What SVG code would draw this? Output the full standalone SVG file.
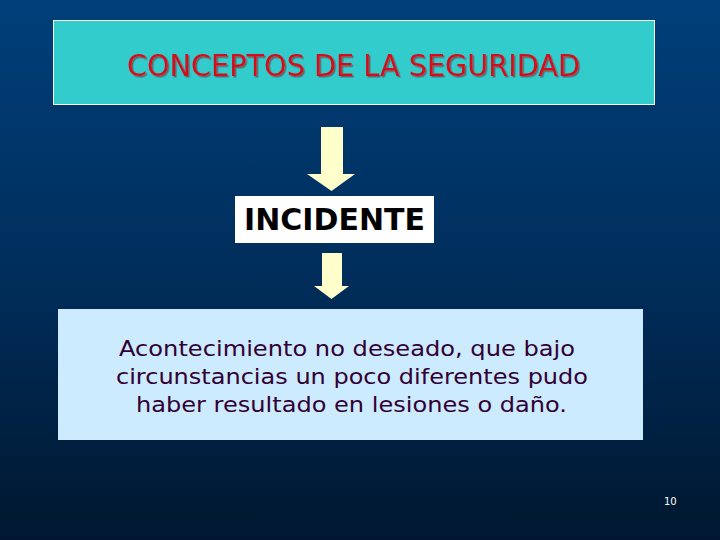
<svg xmlns="http://www.w3.org/2000/svg" width="720" height="540" viewBox="0 0 720 540">
<defs>
<linearGradient id="bg" x1="0" y1="0" x2="0" y2="1">
<stop offset="0" stop-color="#003F7A"/>
<stop offset="0.5" stop-color="#002E5C"/>
<stop offset="1" stop-color="#00172F"/>
</linearGradient>
<filter id="sh" x="-5%" y="-20%" width="110%" height="140%">
<feDropShadow dx="1.5" dy="1.5" stdDeviation="0.3" flood-color="#5A6A70" flood-opacity="1"/>
</filter>
<style>
.arrow{fill:#FFFFCC;}
.title{font-family:"DejaVu Sans","Liberation Sans",sans-serif;font-size:30px;fill:#D4101A;}
.inc{font-family:"DejaVu Sans","Liberation Sans",sans-serif;font-size:30px;font-weight:bold;fill:#000000;}
.body{font-family:"DejaVu Sans","Liberation Sans",sans-serif;font-size:22px;fill:#330033;}
.pg{font-family:"DejaVu Sans","Liberation Sans",sans-serif;font-size:10px;fill:#FFFFFF;}
</style>
</defs>
<rect x="0" y="0" width="720" height="540" fill="url(#bg)"/>
<g id="title">
<rect x="53.5" y="20.5" width="601" height="84" fill="#33CCCC" stroke="#FFFFFF" stroke-width="1"/>
<text class="title" x="127" y="76" textLength="453" lengthAdjust="spacingAndGlyphs" filter="url(#sh)">CONCEPTOS DE LA SEGURIDAD</text>
</g>
<g id="connectors">
<polygon class="arrow" points="321,127 343,127 343,174 355,174 331.5,191 307,174 321,174"/>
<polygon class="arrow" points="322,253 342,253 342,286 349,286 331.5,299 314,286 322,286"/>
</g>
<g id="incidente">
<rect x="235" y="196" width="199" height="47" fill="#FFFFFF"/>
<text class="inc" x="244" y="230" textLength="181" lengthAdjust="spacingAndGlyphs">INCIDENTE</text>
</g>
<g id="definicion">
<rect x="58" y="309" width="585" height="131" fill="#CCEBFF"/>
<text class="body" x="119" y="356" textLength="456" lengthAdjust="spacingAndGlyphs">Acontecimiento no deseado, que bajo</text>
<text class="body" x="116" y="384" textLength="472" lengthAdjust="spacingAndGlyphs">circunstancias un poco diferentes pudo</text>
<text class="body" x="136" y="412" textLength="431" lengthAdjust="spacingAndGlyphs">haber resultado en lesiones o daño.</text>
</g>
<text class="pg" x="664" y="505">10</text>
</svg>
